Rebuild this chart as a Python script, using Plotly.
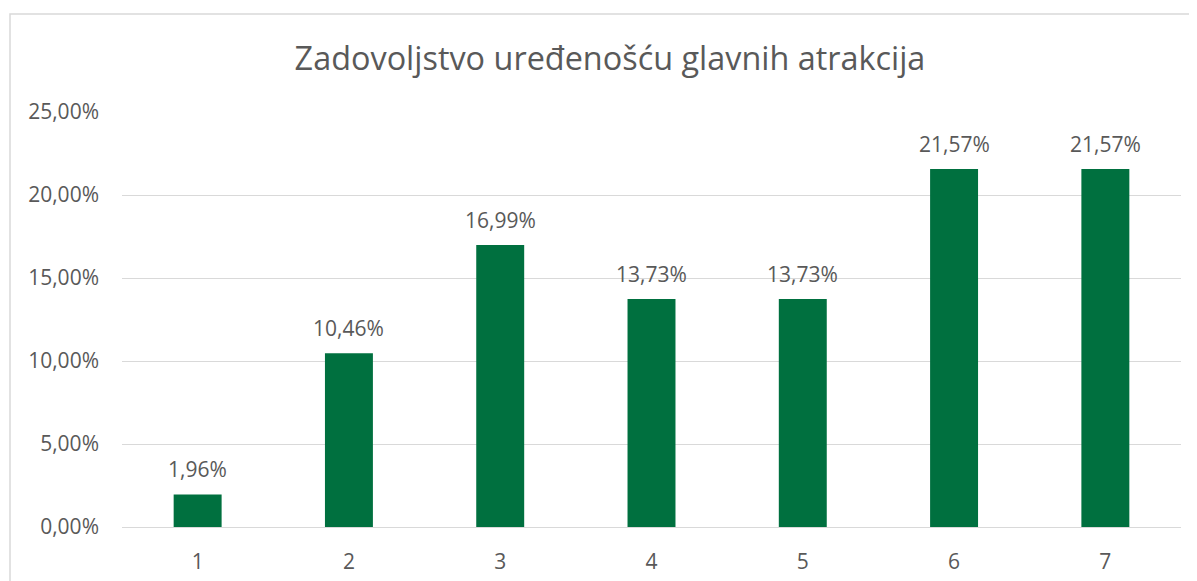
import plotly.graph_objects as go

categories = ["1", "2", "3", "4", "5", "6", "7"]
values = [1.96, 10.46, 16.99, 13.73, 13.73, 21.57, 21.57]
y_ticks = [0, 5, 10, 15, 20, 25]
title_text = "Zadovoljstvo uređenošću glavnih atrakcija"


def pct(v):
    return f"{v:.2f}".replace(".", ",") + "%"


FONT = "Open Sans"
GRAY = "#595959"
GRID = "#D9D9D9"
GREEN = "#00703F"

# The page body has an 8px margin, so the figure is sized/positioned to compensate.
W, H = 1189, 573
L, R, T, B = 114, 16, 104, 54
PW, PH = W - L - R, H - T - B

fig = go.Figure(
    go.Bar(
        x=categories,
        y=values,
        marker=dict(color=GREEN, line=dict(width=0)),
        hoverinfo="x+y",
    )
)

# data labels: placed at each category's position on the category axis
for i, v in enumerate(values):
    fig.add_annotation(
        x=i,
        y=v,
        xref="x",
        yref="y",
        text=pct(v),
        showarrow=False,
        yanchor="bottom",
        yshift=9,
        font=dict(family=FONT, size=21, color=GRAY),
    )

fig.update_layout(
    width=W,
    height=H,
    margin=dict(l=L, r=R, t=T, b=B, autoexpand=False),
    paper_bgcolor="white",
    plot_bgcolor="white",
    bargap=0.683,
    showlegend=False,
    title=dict(
        text=title_text,
        x=602 / W,
        xanchor="center",
        y=1 - 51 / H,
        yanchor="middle",
        font=dict(family=FONT, size=32.4, color=GRAY),
    ),
    xaxis=dict(
        type="category",
        categoryorder="array",
        categoryarray=categories,
        range=[-0.5, len(categories) - 0.5],
        showgrid=False,
        showline=False,
        ticks="",
        automargin=False,
        ticklabelstandoff=20,
        tickfont=dict(family=FONT, size=21, color=GRAY),
    ),
    yaxis=dict(
        range=[0, 25],
        tickvals=y_ticks,
        ticktext=[pct(t) for t in y_ticks],
        showgrid=True,
        gridcolor=GRID,
        gridwidth=1.3,
        zeroline=True,
        zerolinecolor=GRID,
        zerolinewidth=1.3,
        showline=False,
        ticks="",
        automargin=False,
        ticklabelstandoff=22,
        tickfont=dict(family=FONT, size=21, color=GRAY),
    ),
    shapes=[
        dict(
            type="rect",
            xref="paper",
            yref="paper",
            x0=(2 - L) / PW,
            x1=1.1,
            y0=-0.3,
            y1=(H - B - 6) / PH,
            line=dict(color=GRID, width=1.5),
            fillcolor="rgba(0,0,0,0)",
            layer="below",
        )
    ],
)

fig.write_html("out.html")
